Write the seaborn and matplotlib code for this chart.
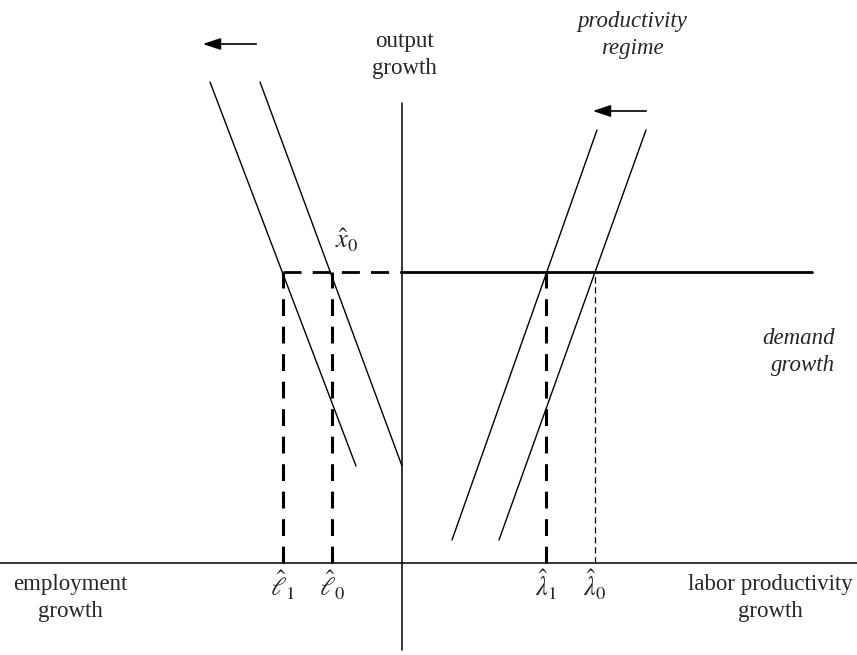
import matplotlib
matplotlib.use("Agg")
import matplotlib.pyplot as plt
import seaborn as sns
import pandas as pd

# Diagram coordinates: origin where the two axes cross, output growth upwards,
# employment growth to the left, labor productivity growth to the right.
demand_level = 291                     # x̂0, demand growth
employment_lines = {                    # (u, v) end points of each employment schedule
    "l1": ([-192, -46], [481, 97]),
    "l0": ([-142, 0], [481, 97]),
}
productivity_lines = {                  # (u, v) end points of each productivity schedule
    "lam1": ([50, 195], [23, 433]),
    "lam0": ([97, 244], [23, 433]),
}
drop_positions = [-119, -70, 144, 193]  # ℓ̂1, ℓ̂0, λ̂1, λ̂0
drop_labels = [r"$\hat{\ell}_1$", r"$\hat{\ell}_0$", r"$\hat{\lambda}_1$", r"$\hat{\lambda}_0$"]
x_extent = (-402, 455)
y_extent = (-92, 563)

sns.set_theme(style="white")
plt.rcParams["font.family"] = ["Liberation Serif", "DejaVu Serif"]
plt.rcParams["mathtext.fontset"] = "stix"

fig = plt.figure(figsize=(8.57, 6.55), dpi=100)
ax = fig.add_axes([0, 0, 1, 1])
ax.set_xlim(*x_extent)
ax.set_ylim(*y_extent)
ax.axis("off")

# axes of the diagram
ax.plot([x_extent[0], x_extent[1]], [0, 0], color="black", lw=1.1)
ax.plot([0, 0], [-87, 460], color="black", lw=1.1)

# sloped schedules
rows = []
for name, (us, vs) in {**employment_lines, **productivity_lines}.items():
    for u, v in zip(us, vs):
        rows.append({"u": u, "v": v, "line": name})
df = pd.DataFrame(rows)
sns.lineplot(data=df, x="u", y="v", units="line", estimator=None, sort=False,
             color="black", lw=1.0, ax=ax, legend=False)

# demand growth
ax.plot([0, 410], [demand_level, demand_level], color="black", lw=2.0)
ax.plot([drop_positions[0], 0], [demand_level, demand_level], color="black",
        lw=2.0, dashes=(6.5, 4))

# drop lines down to the axis
for i, u in enumerate(drop_positions):
    if i < 3:
        ax.plot([u, u], [0, demand_level], color="black", lw=2.2, dashes=(5.5, 3.5))
    else:
        ax.plot([u, u], [0, demand_level], color="black", lw=0.9, dashes=(5, 3))
    ax.text(u, -22, drop_labels[i], ha="center", va="center", fontsize=19)

# shift arrows
arrow_kw = dict(arrowstyle="-|>,head_length=0.9,head_width=0.3", color="black", lw=1.2)
ax.annotate("", xy=(-202, 519), xytext=(-143, 519), arrowprops=arrow_kw)
ax.annotate("", xy=(188, 452), xytext=(247, 452), arrowprops=arrow_kw)

# text labels
fs = 16.5
ls = 1.4
ax.text(2, 508, "output\ngrowth", ha="center", va="center", fontsize=fs, linespacing=ls)
ax.text(230, 528, "productivity\nregime", ha="center", va="center", fontsize=fs,
        style="italic", linespacing=ls)
ax.text(-55, 323, r"$\hat{x}_0$", ha="center", va="center", fontsize=19)
ax.text(433, 211, "demand\ngrowth", ha="right", va="center", fontsize=fs,
        style="italic", linespacing=ls)
ax.text(-332, -35, "employment\ngrowth", ha="center", va="center", fontsize=fs,
        linespacing=ls)
ax.text(368, -35, "labor productivity\ngrowth", ha="center", va="center", fontsize=fs,
        linespacing=ls)

fig.savefig("out.png", dpi=100, facecolor="white")
